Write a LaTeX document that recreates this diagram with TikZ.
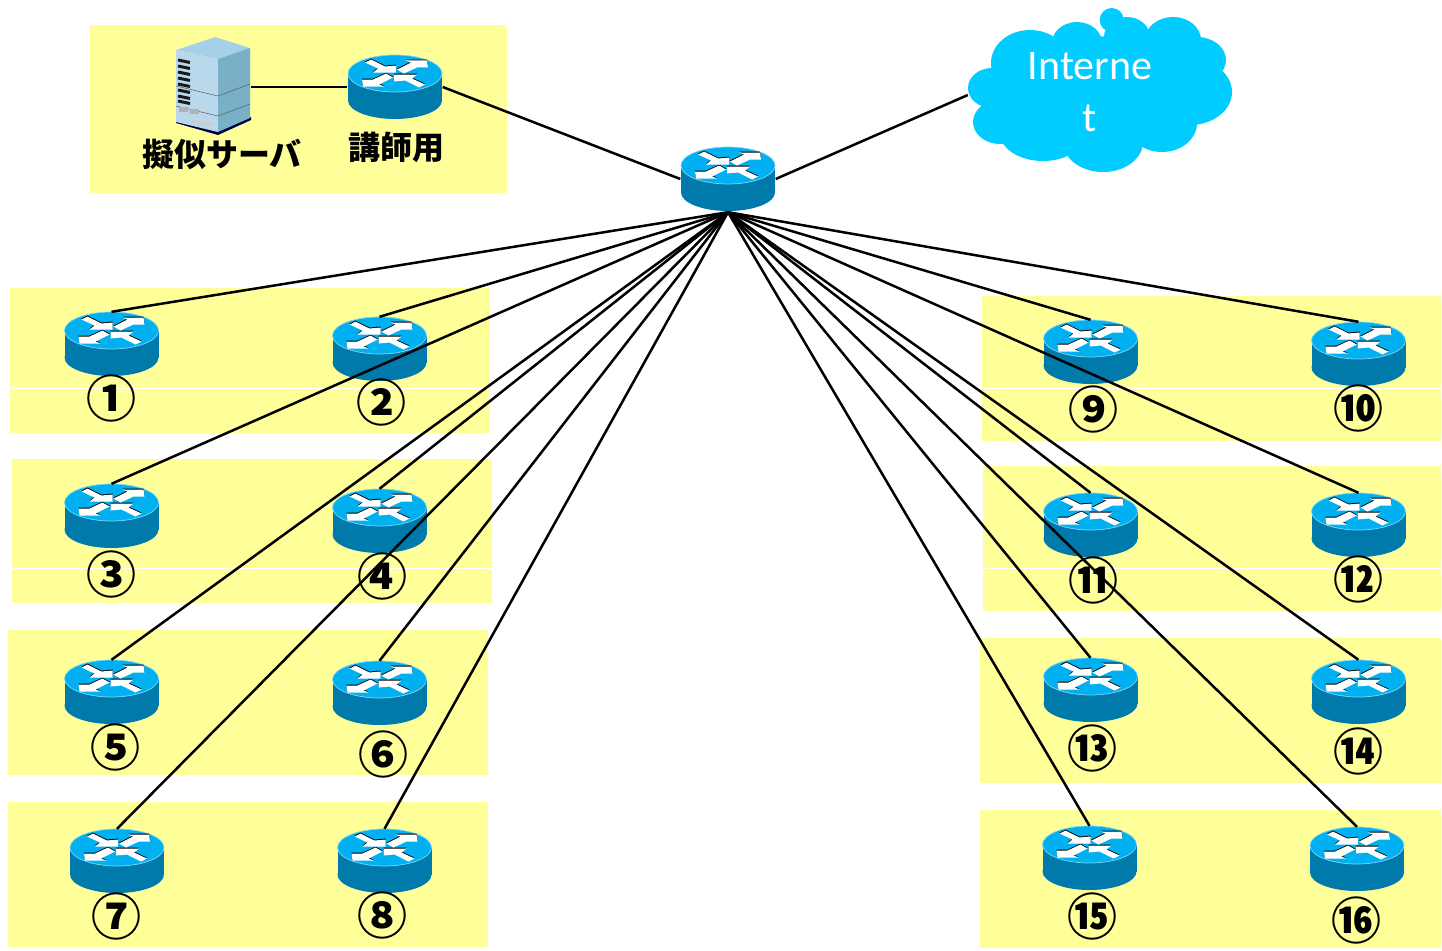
\documentclass[tikz,border=0pt]{standalone}
\usepackage{fontspec}
\newfontfamily\jpfont{Noto Sans CJK JP}
\newfontfamily\latinfont{Carlito}
\definecolor{bandyellow}{HTML}{FFFF99}
\definecolor{routertop}{HTML}{00B0F0}
\definecolor{routerside}{HTML}{0079AB}
\definecolor{routeredge}{HTML}{7FD6F5}
\definecolor{cloudblue}{HTML}{00CCFF}
\definecolor{srvtop}{HTML}{A6CFE8}
\definecolor{srvfront}{HTML}{BAD8EC}
\definecolor{srvside}{HTML}{79AFC7}
\tikzset{
  band/.style={fill=bandyellow,draw=none},
  seam/.style={draw=white,line width=0.8pt},
  link/.style={draw=black,line width=2.5pt},
  routerbox/.style={rectangle,minimum width=95pt,minimum height=64pt,inner sep=0pt,draw=none},
  circlenum/.style={font=\jpfont\bfseries\fontsize{50}{50}\selectfont,inner sep=0pt,text=black},
  caption/.style={font=\jpfont\bfseries\fontsize{32}{32}\selectfont,inner sep=0pt,text=black},
}
\newcommand{\routerart}[1]{%
  \begin{scope}[shift={(#1.center)}]
    \fill[routerside] (0,13.5) ellipse (47 and 18.5);
    \fill[routerside] (-47,-13.5) rectangle (47,13.5);
    \fill[routertop,draw=routeredge,line width=0.7pt] (0,-13.5) ellipse (47 and 18.5);
    \begin{scope}[shift={(0,-13.5)}]
      \foreach \col/\dy in {black/-0.9,white/0}{
        \fill[\col,shift={(0,\dy)}] (-30,-11) -- (-24,-14) -- (-10,-7) -- (1,-8) -- (1,-1) -- (-22,-1) -- (-17,-5) -- cycle;
        \fill[\col,shift={(0,\dy)}] (2,-4) -- (16,-11) -- (11,-13) -- (32,-13) -- (33,-6) -- (22,-6) -- (9,0) -- cycle;
        \fill[\col,shift={(0,\dy)}] (-2,4) -- (-16,11) -- (-11,13) -- (-32,13) -- (-33,6) -- (-22,6) -- (-9,0) -- cycle;
        \fill[\col,shift={(0,\dy)}] (30,11) -- (24,14) -- (10,7) -- (-1,8) -- (-1,1) -- (22,1) -- (17,5) -- cycle;
      }
    \end{scope}
  \end{scope}}
\begin{document}
\begin{tikzpicture}[x=1pt,y=-1pt]
\useasboundingbox (0,0) rectangle (1442,950);
\fill[white] (0,0) rectangle (1442,950);
% bands
\fill[band] (90,25) rectangle (507,193);
\fill[band] (10,288) rectangle (490,433);
\fill[band] (12,459) rectangle (492,603);
\fill[band] (8,630) rectangle (488,775);
\fill[band] (8,802) rectangle (488,947);
\fill[band] (982,296) rectangle (1441,441);
\fill[band] (983,466) rectangle (1441,611);
\fill[band] (980,638) rectangle (1441,783);
\fill[band] (980,810) rectangle (1441,948);
\draw[seam] (10,388) -- (490,388);
\draw[seam] (12,568) -- (492,568);
\draw[seam] (982,388) -- (1441,388);
\draw[seam] (983,568) -- (1441,568);
% cloud
\node[rectangle,minimum width=264pt,minimum height=160pt,inner sep=0pt] (inet) at (1100,95) {};
\begin{scope}
  \fill[cloudblue] (1111.7,20) circle (12);
  \fill[cloudblue] (1030,63) ellipse (39 and 33);
  \fill[cloudblue] (1077,43) ellipse (25 and 21);
  \fill[cloudblue] (1127,37) ellipse (23 and 20);
  \fill[cloudblue] (1173,40) ellipse (28 and 23);
  \fill[cloudblue] (1197,60) ellipse (29 and 23);
  \fill[cloudblue] (1190,92) ellipse (42 and 33);
  \fill[cloudblue] (1162,123) ellipse (35 and 29);
  \fill[cloudblue] (1103,142) ellipse (40 and 30);
  \fill[cloudblue] (1043,133) ellipse (43 and 28);
  \fill[cloudblue] (1000,122) ellipse (27 and 22);
  \fill[cloudblue] (992,88) ellipse (24 and 20);
  \fill[cloudblue] (1090,93) ellipse (100 and 57);
\end{scope}
\node[font=\latinfont\fontsize{42}{52}\selectfont,text=white,align=center,inner sep=0pt] (inettext) at (1090,92) {Interne\\t};
% server
\node[rectangle,minimum width=75pt,minimum height=98pt,inner sep=0pt] (server) at (213.5,87) {};
\begin{scope}
  \fill[black!75!blue] (176,123) -- (218,135) -- (251,120) -- (251,117) -- (218,130) -- (176,118) -- cycle;
  \fill[srvtop] (176,50) -- (215,37) -- (250,48) -- (218,59) -- cycle;
  \fill[srvfront] (176,50) -- (218,59) -- (218,132) -- (176,122) -- cycle;
  \fill[srvside] (218,59) -- (250,48) -- (250,118) -- (218,132) -- cycle;
  \foreach \yy in {60,66,72,78,84,90,96,101}{
    \draw[black!90,line width=3pt] (178,\yy) -- (190,\yy+2.5);
  }
  \draw[gray!70!black,line width=0.5pt] (176,86) -- (218,96) -- (250,84);
  \draw[gray!70!black,line width=0.5pt] (176,106) -- (218,116) -- (250,104);
  \fill[gray!60] (179,107) rectangle (188,112);
  \fill[gray!60] (190,109) rectangle (199,114);
  \fill[gray!40] (192,119) -- (213,124) -- (213,127) -- (192,122) -- cycle;
\end{scope}
% routers
\node[routerbox,minimum height=66pt] (hub) at (728,179) {};
\node[routerbox] (teacher) at (395,87) {};
\foreach \n/\x/\y in {1/111.5/344,2/379.5/349,3/111.5/516,4/379.5/521,5/111.5/692,6/379.5/693,7/117/861,8/384.5/861,9/1090.5/352,10/1358.5/354,11/1090.5/525,12/1358.5/525,13/1090.5/690,14/1358.5/692,15/1089.5/858,16/1357/859}{
  \node[routerbox] (r\n) at (\x,\y) {};
  \routerart{r\n}
}
\routerart{hub}
\routerart{teacher}
% labels
\node[caption] (capserver) at (222,154) {擬似サーバ};
\node[caption] (capteacher) at (396,147) {講師用};
\node[circlenum] (n1) at (111,398) {①};
\node[circlenum] (n2) at (381,402) {②};
\node[circlenum] (n3) at (111,574) {③};
\node[circlenum] (n4) at (382,576) {④};
\node[circlenum] (n5) at (115,747) {⑤};
\node[circlenum] (n6) at (383,754) {⑥};
\node[circlenum] (n7) at (116,916) {⑦};
\node[circlenum] (n8) at (382,915) {⑧};
\node[circlenum] (n9) at (1093,409) {⑨};
\node[circlenum] (n10) at (1358,408) {⑩};
\node[circlenum] (n11) at (1093,580) {⑪};
\node[circlenum] (n12) at (1358,579) {⑫};
\node[circlenum] (n13) at (1092,748) {⑬};
\node[circlenum] (n14) at (1358,751) {⑭};
\node[circlenum] (n15) at (1092,916) {⑮};
\node[circlenum] (n16) at (1356,920) {⑯};
% connectors
\draw[link] (server.east) -- (teacher.west);
\draw[link] (teacher.east) -- (hub.west);
\draw[link] (hub.east) -- (inet.west);
\foreach \n in {1,...,16}{
  \draw[link] (hub.south) -- (r\n.north);
}
\end{tikzpicture}
\end{document}
